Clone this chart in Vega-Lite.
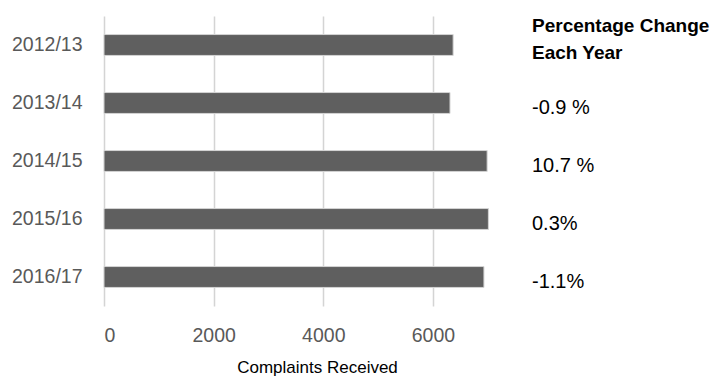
{
  "$schema": "https://vega.github.io/schema/vega-lite/v6.json",
  "padding": {"left": 11, "top": 16, "right": 0, "bottom": 0},
  "background": "white",
  "config": {"view": {"stroke": null}, "concat": {"spacing": 2}},
  "datasets": {
    "complaints": [
      {"year": "2012/13", "complaints": 6368, "change": "Percentage Change\nEach Year", "kind": "header"},
      {"year": "2013/14", "complaints": 6311, "change": "-0.9 %", "kind": "value"},
      {"year": "2014/15", "complaints": 6988, "change": "10.7 %", "kind": "value"},
      {"year": "2015/16", "complaints": 7011, "change": "\u20050.3%", "kind": "value"},
      {"year": "2016/17", "complaints": 6930, "change": "-1.1%", "kind": "value"}
    ]
  },
  "hconcat": [
    {
      "width": 426,
      "height": 290,
      "data": {"name": "complaints"},
      "mark": {"type": "bar", "color": "#5f5f5f", "stroke": "#d4d4d4", "strokeWidth": 1},
      "encoding": {
        "y": {
          "field": "year", "type": "nominal", "sort": null,
          "scale": {"paddingInner": 0.64, "paddingOuter": 0.32},
          "axis": {"title": null, "domain": false, "ticks": false, "labelFont": "Liberation Sans", "labelFontSize": 19.5, "labelColor": "#595959", "labelPadding": 22}
        },
        "x": {
          "field": "complaints", "type": "quantitative",
          "scale": {"domain": [0, 7770], "nice": false},
          "axis": {
            "values": [0, 2000, 4000, 6000], "format": "d", "grid": true, "gridColor": "#d4d4d4", "gridWidth": 1.5,
            "domain": false, "ticks": false, "labelFont": "Liberation Sans", "labelFontSize": 19.5,
            "labelColor": "#595959", "labelPadding": 20,
            "title": "Complaints Received", "titleFont": "Liberation Sans", "titleFontSize": 17,
            "titleFontWeight": "normal", "titleColor": "#000000", "titlePadding": 15
          }
        }
      }
    },
    {
      "width": 184,
      "height": 290,
      "data": {"name": "complaints"},
      "encoding": {
        "y": {"field": "year", "type": "nominal", "sort": null, "scale": {"paddingInner": 0.64, "paddingOuter": 0.32}, "axis": null},
        "x": {"datum": 0, "type": "quantitative", "scale": {"domain": [0, 1]}, "axis": null},
        "text": {"field": "change"}
      },
      "layer": [
        {
          "transform": [{"filter": "datum.kind === 'header'"}],
          "mark": {"type": "text", "align": "left", "baseline": "middle", "lineBreak": "\n", "font": "Liberation Sans", "fontSize": 19, "fontWeight": "bold", "color": "#000000", "lineHeight": 27, "dy": -19}
        },
        {
          "transform": [{"filter": "datum.kind === 'value'"}],
          "mark": {"type": "text", "align": "left", "baseline": "middle", "font": "Liberation Sans", "fontSize": 20, "color": "#000000", "dy": 5}
        }
      ]
    }
  ]
}
